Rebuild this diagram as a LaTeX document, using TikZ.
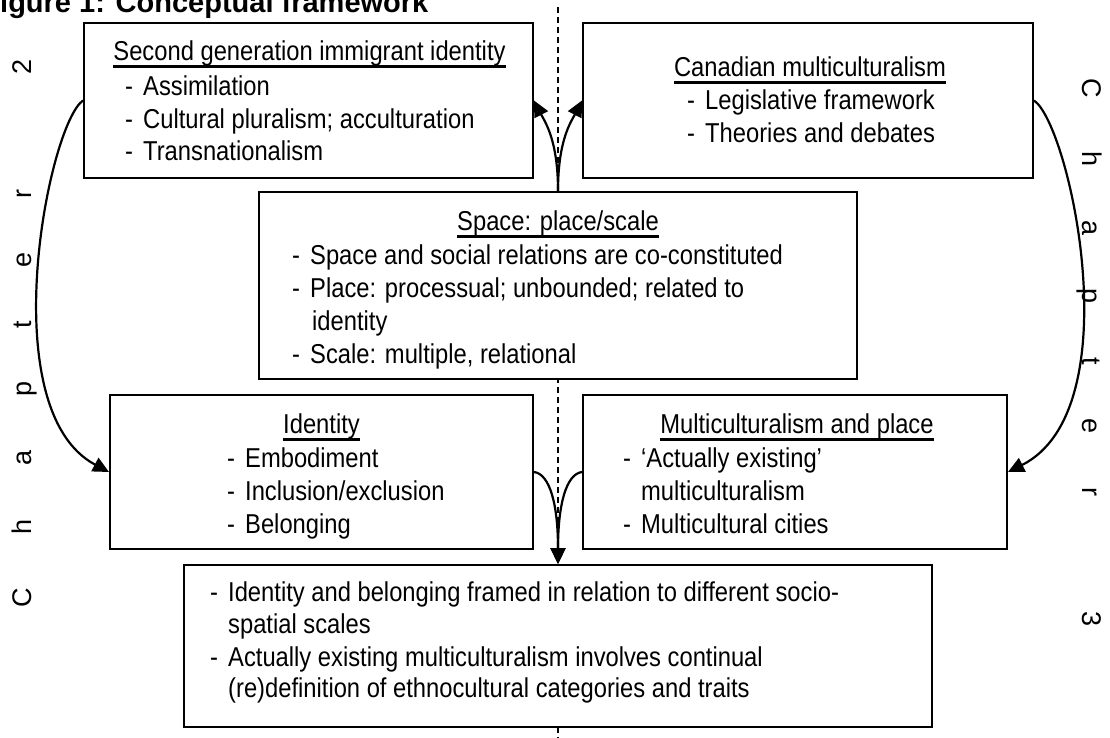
\documentclass[tikz,border=0pt]{standalone}
\usepackage{fontspec}
\setmainfont{Liberation Sans}[FakeStretch=0.87]
\newfontfamily\chapfont{Liberation Sans}
\newfontfamily\titlefont{Liberation Sans}
\usetikzlibrary{arrows.meta}
% heading rule: 3pt thick, its lower edge 7.5pt below the baseline
\newsavebox{\headbox}
\newcommand{\underlined}[1]{\sbox{\headbox}{#1}\rlap{\rule[-7.5pt]{\wd\headbox}{3pt}}\usebox{\headbox}}
% dash that opens each list item
\newcommand{\itemdash}{\makebox[18pt][l]{-}}
% wide letter spacing for the chapter labels
\newcommand{\chgap}{\hspace{53.7pt}}
\begin{document}
\begin{tikzpicture}[x=1pt,y=-1pt,
  box/.style={draw, line width=2pt, fill=white, inner sep=0pt},
  txt/.style={inner sep=0pt, font=\fontsize{27.3}{32}\selectfont},
  head/.style={txt, anchor=base},
  item/.style={txt, anchor=base west},
  conn/.style={line width=2.2pt, -{Triangle[length=16pt,width=15pt]}},
  axis/.style={line width=1.3pt, dash pattern=on 6pt off 4pt},
  chap/.style={inner sep=0pt, anchor=base west, font=\chapfont\fontsize{27}{30}\selectfont}]
\useasboundingbox (0,0) rectangle (1110,738);

% central dashed axis, behind the boxes
\coordinate (axt) at (558,7);
\coordinate (axb) at (558,745);
\draw[axis] (axt) -- (axb);

% boxes
\node[box, minimum width=449, minimum height=155] (b1)  at (308.5,100.5) {};
\node[box, minimum width=450, minimum height=155] (b2)  at (808,100.5) {};
\node[box, minimum width=598, minimum height=187] (mid) at (558,285.5) {};
\node[box, minimum width=423, minimum height=154] (id)  at (321.5,472) {};
\node[box, minimum width=424, minimum height=154] (mp)  at (795,472) {};
\node[box, minimum width=748, minimum height=162] (bot) at (558,646) {};

% second generation immigrant identity
\node[head] (b1h) at (309.5,61) {\underlined{Second generation immigrant identity}};
\node[item] (b1a) at (125,96)  {\itemdash Assimilation};
\node[item] (b1b) at (125,129) {\itemdash Cultural pluralism; acculturation};
\node[item] (b1c) at (125,161) {\itemdash Transnationalism};

% canadian multiculturalism
\node[head] (b2h) at (810,77) {\underlined{Canadian multiculturalism}};
\node[item] (b2a) at (687,110) {\itemdash Legislative framework};
\node[item] (b2b) at (687,143) {\itemdash Theories and debates};

% space
\node[head] (mh) at (558,230) {\underlined{Space: place/scale}};
\node[item] (ma) at (292,264) {\itemdash Space and social relations are co-constituted};
\node[item] (mb) at (292,297) {\itemdash Place: processual; unbounded; related to};
\node[item] (mc) at (312,330) {identity};
\node[item] (md) at (292,363) {\itemdash Scale: multiple, relational};

% identity
\node[head] (idh) at (321.5,433) {\underlined{Identity}};
\node[item] (ida) at (227,467) {\itemdash Embodiment};
\node[item] (idb) at (227,500) {\itemdash Inclusion/exclusion};
\node[item] (idc) at (227,533) {\itemdash Belonging};

% multiculturalism and place
\node[head] (mph) at (797,433) {\underlined{Multiculturalism and place}};
\node[item] (mpa) at (623,467) {\itemdash ‘Actually existing’};
\node[item] (mpb) at (641,500) {multiculturalism};
\node[item] (mpc) at (623,533) {\itemdash Multicultural cities};

% synthesis
\node[item] (bta) at (210,601) {\itemdash Identity and belonging framed in relation to different socio-};
\node[item] (btb) at (228,633) {spatial scales};
\node[item] (btc) at (210,666) {\itemdash Actually existing multiculturalism involves continual};
\node[item] (btd) at (228,697) {(re)definition of ethnocultural categories and traits};

% connectors
\draw[conn] (b1.west) .. controls (48,125) and (-8,410) .. (id.west);
\draw[conn] (b2.east) .. controls (1070,125) and (1132,410) .. (mp.east);
\draw[conn] (mid.north) .. controls (558,140) and (545,122) .. (b1.east);
\draw[conn] (mid.north) .. controls (558,140) and (571,122) .. (b2.west);
\draw[conn] (id.east) .. controls (550,474) and (558,505) .. (bot.north);
\draw[conn] (mp.west) .. controls (566,474) and (558,505) .. (bot.north);

% chapter labels
\node[chap, rotate=90]  (chl) at (31,607.75) {C\chgap h\chgap a\chgap p\chgap t\chgap e\chgap r\chgap\ \chgap 2};
\node[chap, rotate=-90] (chr) at (1082,78)   {C\chgap h\chgap a\chgap p\chgap t\chgap e\chgap r\chgap\ \chgap 3};

% figure title
\node[inner sep=0pt, anchor=base west, font=\titlefont\bfseries\fontsize{29}{34}\selectfont] (ttl) at (-17.7,12.5) {Figure 1: Conceptual framework};
\end{tikzpicture}
\end{document}
